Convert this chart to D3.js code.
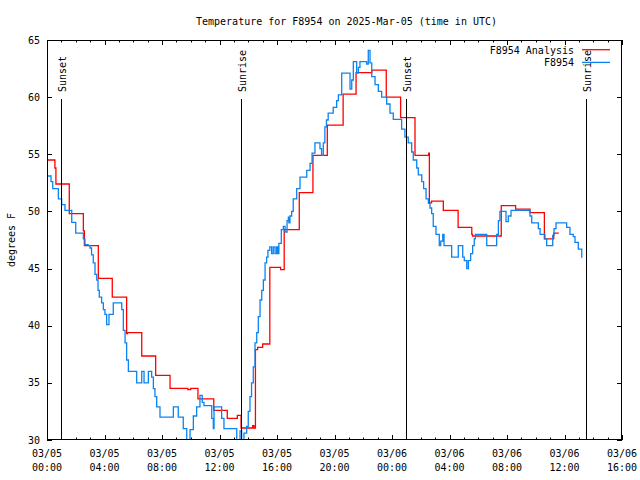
<!DOCTYPE html>
<html><head><meta charset="utf-8">
<script src="https://cdn.jsdelivr.net/npm/d3@7"></script>
<style>
html,body{margin:0;padding:0;background:#fff;}
text{font-family:"DejaVu Sans Mono","Liberation Mono",monospace;font-size:10px;fill:#000;}
</style></head><body>
<svg id="chart" width="640" height="480"></svg>
<script>
// ---- data (hours since 2025-03-05 00:00 UTC) ----
const analysisHours = [0,0.55,0.62,1.55,2.53,2.6,3.57,4.54,5.54,5.6,6.59,7.56,8.56,9.8,10.0,10.5,11.6,12.54,13.24,13.5,14.31,14.4,14.5,14.65,15.0,15.5,16.25,16.5,17.55,18.5,19.5,20.6,21.5,22.6,23.6,24.6,25.6,26.55,26.6,26.75,27.57,28.6,29.55,29.6,31.6,32.6,33.6,34.6,35.25,35.6];
const analysisTemps = [54.5,53.8,52.4,49.8,48.3,47.0,44.15,42.5,39.3,39.4,37.35,35.66,34.52,34.4,34.52,33.6,32.6,31.9,32.15,31.05,31.25,31.05,37.9,38.1,38.4,45.1,44.9,48.4,51.65,54.9,57.55,60.27,62.14,62.37,60.0,58.2,54.9,55.1,50.75,50.9,50.1,48.6,48.0,47.85,50.5,50.2,49.9,47.6,48.1,48.1];

const obsHours = [0,0.28,0.4,0.79,1.02,1.25,1.72,2.0,2.53,2.64,2.87,2.99,3.1,3.22,3.34,3.46,3.55,3.64,3.8,3.92,4.03,4.15,4.31,4.61,5.2,5.31,5.43,5.54,5.66,6.24,6.59,6.75,7.05,7.28,7.4,7.51,7.63,7.86,8.79,9.13,9.48,9.72,9.95,10.18,10.41,10.64,10.8,10.92,11.46,11.57,11.62,12.15,12.31,13.2,13.43,13.54,13.7,13.89,14.0,14.12,14.23,14.35,14.47,14.59,14.7,14.82,14.94,15.05,15.17,15.28,15.37,15.5,15.63,15.74,15.86,15.97,16.06,16.13,16.3,16.44,16.56,16.7,16.79,16.83,16.9,17.02,17.13,17.37,17.6,18.07,18.3,18.44,18.64,18.99,19.1,19.22,19.33,19.44,19.56,19.91,20.15,20.27,20.5,21.08,21.2,21.31,21.54,21.66,21.77,22.24,22.35,22.47,22.59,22.82,23.05,23.28,23.63,23.86,24.09,24.67,24.9,25.13,25.37,25.48,25.72,25.83,26.07,26.2,26.37,26.53,26.64,26.76,26.87,27.06,27.29,27.39,27.53,27.62,28.15,28.61,28.92,29.03,29.2,29.31,29.47,29.61,29.72,29.8,30.59,31.28,31.4,31.51,31.93,32.09,32.28,33.6,33.72,34.18,34.3,34.64,34.76,35.18,35.27,35.41,36.15,36.38,36.61,36.73,36.96,37.2,37.25];
const obsTemps = [53.1,52.6,52.0,51.1,50.6,50.1,49.05,48.1,47.6,47.1,47.0,46.8,46.2,45.5,44.5,44.0,43.1,42.5,42.0,41.4,41.0,40.1,41.0,42.0,41.4,39.6,38.5,37.0,36.0,35.0,36.0,35.0,36.0,35.5,34.5,33.8,32.9,32.0,32.9,32.0,31.0,29.5,30.9,32.1,32.9,33.9,33.3,33.0,31.9,31.0,32.9,31.9,31.0,29.6,30.8,29.6,30.6,31.2,32.5,33.8,35.0,36.4,38.5,39.4,40.8,42.25,43.1,44.0,45.5,46.0,46.6,46.9,46.3,46.9,46.3,46.9,46.3,47.2,48.4,48.7,48.2,49.2,49.5,49.0,49.6,50.0,51.1,52.0,53.0,53.6,54.2,55.1,56.0,55.5,54.9,56.0,57.4,58.0,58.6,59.1,59.7,60.2,62.1,60.7,61.5,63.1,62.1,62.6,63.1,62.9,64.1,63.0,61.8,61.1,60.5,60.0,59.4,58.6,58.05,57.2,56.5,56.0,55.2,54.5,53.8,53.2,52.6,52.0,51.1,50.7,50.3,49.8,48.7,48.0,47.0,47.4,48.0,47.0,46.0,47.0,46.0,45.7,45.0,45.7,46.3,47.0,47.6,48.0,47.0,48.0,49.2,50.0,49.1,49.6,50.1,49.6,49.0,48.5,48.0,47.6,47.0,47.9,48.5,49.0,48.6,48.0,47.8,47.3,46.7,46.0,46.0];

const eventLabels = ["Sunset","Sunrise","Sunset","Sunrise"];
const eventHours = [0.99,13.52,24.97,37.52];

const seriesNames = ["F8954 Analysis","F8954"];
const seriesColors = ["#ff0000","#0a84f0"];
const yTicks = [30,35,40,45,50,55,60,65];
const titleText = "Temperature for F8954 on 2025-Mar-05 (time in UTC)";
const yLabel = "degrees F";

// ---- layout ----
const t0 = Date.UTC(2025,2,5,0,0);
const toDate = h => new Date(t0 + h*3600e3);
const L=47, R=622, T=40, B=440;
const svg = d3.select("#chart");
const x = d3.scaleUtc().domain([toDate(0), toDate(40)]).range([L,R]);
const y = d3.scaleLinear().domain([30,65]).range([B,T]);

svg.append("defs").append("clipPath").attr("id","clip")
  .append("rect").attr("x",L).attr("y",T).attr("width",R-L).attr("height",B-T);

// title
svg.append("text").attr("x",(L+R)/2+12).attr("y",21).attr("dy","0.35em")
  .attr("text-anchor","middle").text(titleText);

// y label
svg.append("text").attr("transform",`translate(11,${(T+B)/2}) rotate(-90)`)
  .attr("dy","0.35em").attr("text-anchor","middle").text(yLabel);

// axes
const majorTicks = d3.utcHour.every(4).range(toDate(0), toDate(40.01));
const minorTicks = d3.utcHour.every(1).range(toDate(0), toDate(40.01));
const fmtD = d3.utcFormat("%m/%d"), fmtH = d3.utcFormat("%H:%M");

const xb = d3.axisBottom(x).tickValues(majorTicks).tickSize(0).tickFormat("");
const g = svg.append("g");
// ticks drawn inward
const tk = g.append("g").attr("stroke","#000").attr("stroke-width",1);
minorTicks.forEach(d=>{
  const px = Math.round(x(d))+0.5;
  const isMajor = d.getUTCHours()%4===0;
  const len = isMajor?5:2.5;
  tk.append("line").attr("x1",px).attr("x2",px).attr("y1",B).attr("y2",B-len);
  tk.append("line").attr("x1",px).attr("x2",px).attr("y1",T).attr("y2",T+len);
});
yTicks.forEach(v=>{
  const py = Math.round(y(v))+0.5;
  tk.append("line").attr("x1",L).attr("x2",L+5).attr("y1",py).attr("y2",py);
  tk.append("line").attr("x1",R).attr("x2",R-5).attr("y1",py).attr("y2",py);
});
// x tick labels
const xl = svg.append("g").attr("transform",`translate(0,${B})`);
majorTicks.forEach(d=>{
  const t = xl.append("text").attr("x",x(d)).attr("text-anchor","middle");
  t.append("tspan").attr("x",x(d)).attr("y",13).attr("dy","0.35em").text(fmtD(d));
  t.append("tspan").attr("x",x(d)).attr("y",27).attr("dy","0.35em").text(fmtH(d));
});
// y tick labels
const yl = svg.append("g");
yTicks.forEach(v=>{
  yl.append("text").attr("x",L-7).attr("y",y(v)).attr("dy","0.35em")
    .attr("text-anchor","end").text(v);
});

// series
const plot = svg.append("g").attr("clip-path","url(#clip)");
const line = d3.line().curve(d3.curveStepAfter).x(d=>x(toDate(d[0]))).y(d=>y(d[1]));
const analysis = analysisHours.map((h,i)=>[h,analysisTemps[i]]);
const obs = obsHours.map((h,i)=>[h,obsTemps[i]]);
plot.append("path").datum(analysis).attr("d",line).attr("fill","none")
  .attr("stroke",seriesColors[0]).attr("stroke-width",1.3);
plot.append("path").datum(obs).attr("d",line).attr("fill","none")
  .attr("stroke",seriesColors[1]).attr("stroke-width",1.3);

// sun events
eventHours.forEach((h,i)=>{
  const px = Math.round(x(toDate(h)))+0.5;
  svg.append("line").attr("x1",px).attr("x2",px).attr("y1",99).attr("y2",B)
    .attr("stroke","#000").attr("stroke-width",1);
  svg.append("text").attr("transform",`translate(${px+1},92) rotate(-90)`)
    .attr("dy","0.35em").attr("text-anchor","start").text(eventLabels[i]);
});

// legend
seriesNames.forEach((n,i)=>{
  const ly = 50 + i*12.7;
  svg.append("text").attr("x",574).attr("y",ly).attr("dy","0.35em")
    .attr("text-anchor","end").text(n);
  svg.append("line").attr("x1",582).attr("x2",610).attr("y1",ly-0.3).attr("y2",ly-0.3)
    .attr("stroke",seriesColors[i]).attr("stroke-width",1.3);
});

// frame
svg.append("rect").attr("x",L+0.5).attr("y",T+0.5).attr("width",R-L-1).attr("height",B-T-1)
  .attr("fill","none").attr("stroke","#000").attr("stroke-width",1);
</script>
</body></html>
